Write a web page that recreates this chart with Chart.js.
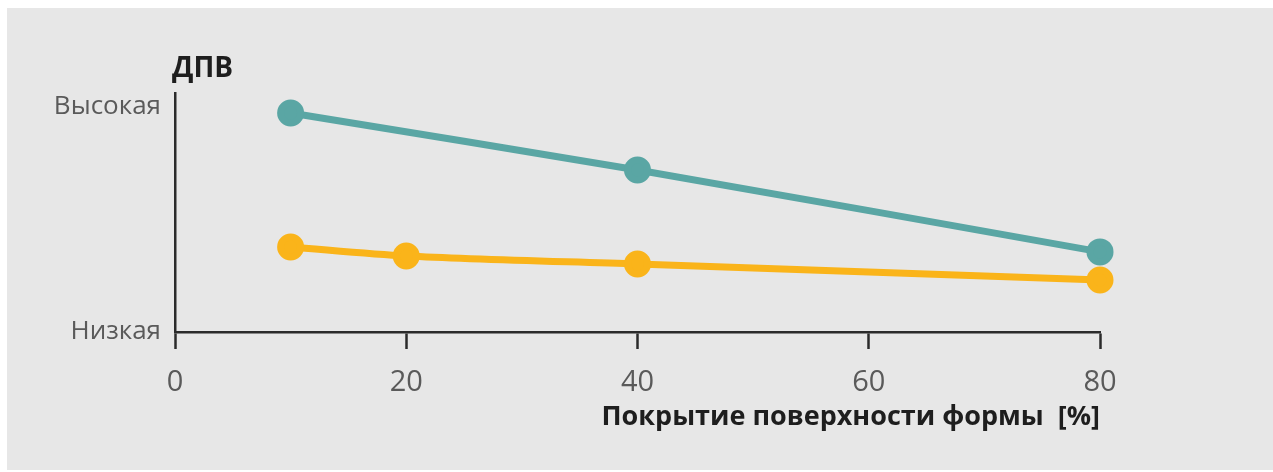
<!DOCTYPE html>
<html lang="ru">
<head>
<meta charset="utf-8">
<title>ДПВ и покрытие поверхности формы</title>
<script src="https://cdn.jsdelivr.net/npm/chart.js@4/dist/chart.umd.min.js"></script>
<style>
  html, body { margin: 0; padding: 0; background: #fff; }
  #panel {
    position: absolute; left: 7px; top: 8px;
    width: 1266px; height: 462px;
    background: #e7e7e7;
  }
  #chart { display: block; }
</style>
</head>
<body>
<div id="panel"><canvas id="chart" width="1266" height="462"></canvas></div>
<script>
// Coverage of the form surface, %
const coverage = [10, 20, 40, 80];
// Relative DPV level (0 = low, 1 = high)
const upperSeries = [0.973, null, 0.72, 0.356];
const lowerSeries = [0.378, 0.338, 0.302, 0.231];
const xTicks = [0, 20, 40, 60, 80];
const yTickLabels = ['Низкая', 'Высокая'];

const colors = {
    teal: '#5aa6a4',
    amber: '#fab41a',
    axis: '#2b2b2b',
    label: '#5a5a5a',
    title: '#1e1e1e'
};

const FONT = '"Open Sans", "Noto Sans", sans-serif';

const toPoints = (ys) => coverage
    .map((x, i) => ({ x: x, y: ys[i] }))
    .filter(p => p.y !== null);

// "ДПВ" heading above the vertical axis
const axisHeading = {
    id: 'axisHeading',
    afterDraw(chart) {
        const { ctx, chartArea } = chart;
        ctx.save();
        ctx.font = 'bold 28px ' + FONT;
        ctx.fillStyle = colors.title;
        ctx.textAlign = 'left';
        ctx.textBaseline = 'middle';
        ctx.fillText('ДПВ', chartArea.left - 3, chartArea.top - 24);
        ctx.restore();
    }
};

const ctx = document.getElementById('chart').getContext('2d');

new Chart(ctx, {
    type: 'line',
    data: {
        datasets: [
            {
                data: toPoints(upperSeries),
                borderColor: colors.teal,
                backgroundColor: colors.teal,
                borderWidth: 7,
                pointRadius: 10,
                pointHoverRadius: 10,
                tension: 0.3,
                clip: false
            },
            {
                data: toPoints(lowerSeries),
                borderColor: colors.amber,
                backgroundColor: colors.amber,
                borderWidth: 7,
                pointRadius: 10,
                pointHoverRadius: 10,
                tension: 0.3,
                clip: false
            }
        ]
    },
    options: {
        responsive: false,
        animation: false,
        layout: { padding: { top: 85, right: 173, left: 0, bottom: 0 } },
        plugins: {
            legend: { display: false },
            tooltip: { enabled: false }
        },
        scales: {
            x: {
                type: 'linear',
                min: 0,
                max: 80,
                afterBuildTicks: (scale) => {
                    scale.ticks = xTicks.map(v => ({ value: v }));
                },
                afterFit: (scale) => { scale.height = 138; },
                grid: {
                    drawOnChartArea: false,
                    drawTicks: true,
                    tickLength: 17,
                    tickWidth: 2.5,
                    tickColor: colors.axis
                },
                border: { display: true, color: colors.axis, width: 2.5 },
                ticks: {
                    color: colors.label,
                    padding: 16,
                    maxRotation: 0,
                    font: { family: FONT, size: 29 }
                },
                title: {
                    display: true,
                    text: 'Покрытие поверхности формы  [%]',
                    align: 'end',
                    color: colors.title,
                    font: { family: FONT, size: 27, weight: 'bold' },
                    padding: { top: 0, bottom: 36 }
                }
            },
            y: {
                type: 'linear',
                min: 0,
                max: 1.062,
                afterBuildTicks: (scale) => {
                    scale.ticks = yTickLabels.map((t, i) => ({ value: i }));
                },
                afterFit: (scale) => { scale.width = 168; },
                grid: { drawOnChartArea: false, drawTicks: false },
                border: { display: true, color: colors.axis, width: 2.5 },
                ticks: {
                    color: colors.label,
                    padding: 14,
                    font: { family: FONT, size: 26 },
                    callback: (value) => yTickLabels[value] ?? ''
                }
            }
        }
    },
    plugins: [axisHeading]
});
</script>
</body>
</html>
